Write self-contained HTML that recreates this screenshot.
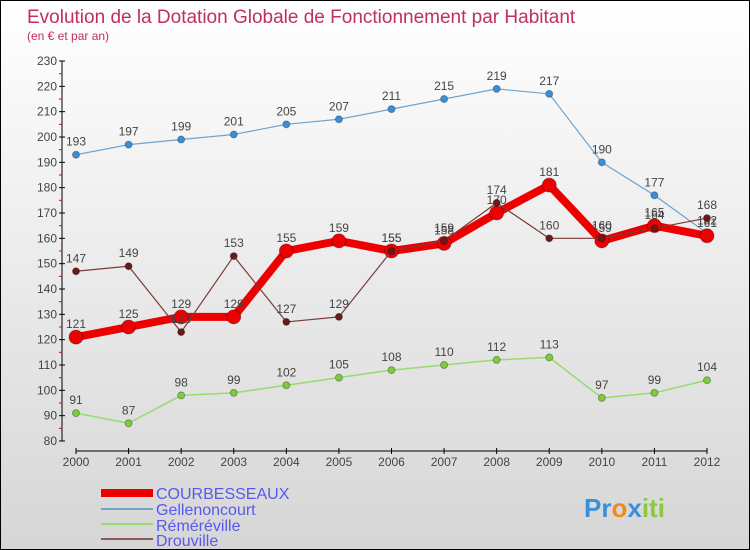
<!DOCTYPE html>
<html><head><meta charset="utf-8"><style>
body{margin:0}
#c{width:748px;height:548px;border:1px solid #000;background:linear-gradient(#ffffff,#d6d6d6);position:relative;overflow:hidden;font-family:"Liberation Sans",sans-serif}
svg text{font-family:"Liberation Sans",sans-serif}
</style></head><body>
<div id="c">
<svg id="s" width="748" height="548" xmlns="http://www.w3.org/2000/svg">
<text x="26" y="22" font-size="19" fill="#c0305a">Evolution de la Dotation Globale de Fonctionnement par Habitant</text>
<text x="26" y="39" font-size="12" fill="#c0305a">(en € et par an)</text>
<g id="axes"></g><g id="series"></g>
<g font-size="16" fill="#5858ee">
<rect x="100" y="488" width="52" height="8" fill="#ee0000"/>
<text x="155" y="498">COURBESSEAUX</text>
<rect x="100" y="507" width="52" height="2" fill="#6fa4cf"/>
<text x="155" y="514">Gellenoncourt</text>
<rect x="100" y="522" width="52" height="2" fill="#96dc6e"/>
<text x="155" y="530">Réméréville</text>
<rect x="100" y="537" width="52" height="2" fill="#8a5a5a"/>
<text x="155" y="545">Drouville</text>
</g>
<text x="583" y="516" font-size="26" font-weight="bold"><tspan fill="#3a8fd8">Pr</tspan><tspan fill="#f08a1c">o</tspan><tspan fill="#3a8fd8">x</tspan><tspan fill="#8cc83c">iti</tspan></text>
</svg></div>
<script>
const years=[2000,2001,2002,2003,2004,2005,2006,2007,2008,2009,2010,2011,2012];
const yTicks=[80,90,100,110,120,130,140,150,160,170,180,190,200,210,220,230];
const courbesseaux=[121,125,129,129,155,159,155,158,170,181,159,165,161];
const gellenoncourt=[193,197,199,201,205,207,211,215,219,217,190,177,162];
const remereville=[91,87,98,99,102,105,108,110,112,113,97,99,104];
const drouville=[147,149,123,153,127,129,155,159,174,160,160,164,168];
const NS="http://www.w3.org/2000/svg";
function X(i){return 75+i*(706-75)/(years.length-1);}
function Y(v){return 440-(v-80)*(380/150);}
function mk(tag,attrs,parent){const e=document.createElementNS(NS,tag);for(const k in attrs)e.setAttribute(k,attrs[k]);parent.appendChild(e);return e;}
const ax=document.getElementById('axes');
let yl=mk('line',{x1:61,y1:Y(230),x2:61,y2:Y(80),stroke:'#000'},ax);


yTicks.forEach((t,i)=>{
 mk('line',{x1:58,x2:64,y1:Y(t),y2:Y(t),stroke:'#000'},ax);
 if(i<yTicks.length-1) mk('line',{x1:58,x2:61,y1:Y(t+5),y2:Y(t+5),stroke:'#e00'},ax);
 const tx=mk('text',{x:56,y:Y(t)+4,'font-size':12,'text-anchor':'end',fill:'#444'},ax);
 tx.textContent=t;
 
 
});
let xl=mk('line',{x1:75,y1:450,x2:706,y2:450,stroke:'#000'},ax);


years.forEach((yr,i)=>{
 mk('line',{x1:X(i),x2:X(i),y1:447,y2:453,stroke:'#000'},ax);
 const tx=mk('text',{x:X(i),y:465,'font-size':12,'text-anchor':'middle',fill:'#444'},ax);
 tx.textContent=yr;
 
 
});
const sg=document.getElementById('series');
function draw(name,data,color,w,r,dot){
 const g=mk('g',{},sg);
 
 
 const pts=data.map((v,i)=>X(i)+','+Y(v)).join(' ');
 const pl=mk('polyline',{points:pts,fill:'none',stroke:color,'stroke-width':w,'stroke-linejoin':'round'},g);
 
 
 data.forEach((v,i)=>{
  const c=mk('circle',{cx:X(i),cy:Y(v),r:r,fill:dot,stroke:'rgba(0,0,0,0.3)','stroke-width':1},g);
  
  
  const t=mk('text',{x:X(i),y:Y(v)-9,'font-size':12,'text-anchor':'middle',fill:'#444'},g);
  t.textContent=v;
  
  
 });
}
draw('gellenoncourt',gellenoncourt,'#6fa4cf',1.2,3.5,'#3a8fd8');
draw('remereville',remereville,'#96dc6e',1.5,3.5,'#7ccc3c');
draw('courbesseaux',courbesseaux,'#ee0000',8,7,'#ee0000');
draw('drouville',drouville,'#7a3a3a',1.2,3.5,'#6a1a1a');
</script>
</body></html>
